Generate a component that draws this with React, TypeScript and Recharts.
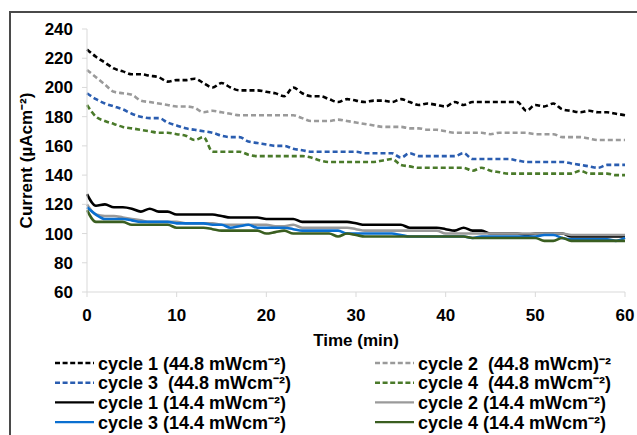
import React from "react";
import { LineChart, Line, XAxis, YAxis } from "recharts";

const minutes = [
  0, 1, 2, 3, 4, 5, 6, 7, 8, 9, 10, 11, 12, 13, 14, 15, 16, 17, 18, 19, 20,
  21, 22, 23, 24, 25, 26, 27, 28, 29, 30, 31, 32, 33, 34, 35, 36, 37, 38, 39, 40,
  41, 42, 43, 44, 45, 46, 47, 48, 49, 50, 51, 52, 53, 54, 55, 56, 57, 58, 59, 60,
];

// 44.8 mWcm-2 runs (dashed)
const cycle1High = [
  226, 221, 217, 213, 211, 209, 209, 208, 207, 204, 205, 205, 206, 203, 200, 203, 200, 198, 198, 198, 197,
  196, 194, 200, 196, 194, 194, 192, 190, 192, 191, 190, 191, 191, 190, 192, 190, 188, 189, 188, 187,
  190, 188, 190, 190, 190, 190, 190, 190, 184, 188, 187, 189, 185, 184, 183, 184, 183, 183, 182, 181,
];
const cycle2High = [
  212, 207, 202, 197, 196, 195, 191, 190, 189, 188, 187, 187, 186, 183, 184, 183, 182, 181, 181, 181, 181,
  181, 181, 181, 179, 177, 177, 177, 178, 177, 176, 175, 174, 173, 173, 173, 172, 172, 171, 171, 170,
  169, 169, 169, 169, 168, 169, 169, 169, 169, 168, 168, 168, 166, 166, 166, 165, 164, 164, 164, 164,
];
const cycle3High = [
  196, 192, 189, 187, 185, 182, 180, 179, 179, 176, 174, 172, 171, 170, 169, 167, 166, 166, 163, 162, 161,
  160, 160, 158, 157, 156, 156, 156, 156, 156, 156, 155, 155, 155, 155, 152, 155, 153, 153, 153, 153,
  153, 155, 151, 151, 151, 151, 151, 150, 149, 149, 149, 149, 149, 148, 147, 146, 145, 147, 147, 147,
];
const cycle4High = [
  188, 180, 177, 175, 173, 172, 171, 170, 169, 169, 168, 167, 164, 166, 156, 156, 156, 156, 154, 153, 153,
  153, 153, 153, 153, 152, 150, 149, 149, 149, 149, 149, 149, 150, 151, 147, 146, 145, 145, 145, 145,
  145, 145, 143, 145, 143, 142, 141, 141, 141, 141, 141, 141, 141, 141, 143, 141, 141, 141, 140, 140,
];

// 14.4 mWcm-2 runs (solid)
const cycle1Low = [
  127, 119, 120, 118, 118, 117, 115, 117, 115, 115, 113, 113, 113, 113, 113, 112, 111, 111, 111, 111, 110,
  110, 110, 110, 108, 108, 108, 108, 108, 108, 107, 106, 106, 106, 106, 106, 104, 104, 104, 104, 103,
  102, 104, 102, 102, 100, 100, 100, 100, 99, 100, 100, 100, 100, 98, 98, 98, 98, 98, 98, 98,
];
const cycle2Low = [
  120, 113, 112, 112, 111, 110, 109, 108, 108, 108, 108, 107, 107, 107, 107, 106, 106, 106, 106, 106, 106,
  105, 105, 106, 104, 104, 104, 104, 104, 104, 103, 102, 102, 102, 102, 102, 102, 102, 102, 102, 100,
  100, 100, 100, 100, 100, 100, 100, 100, 100, 100, 100, 100, 100, 99, 99, 99, 99, 99, 99, 99,
];
const cycle3Low = [
  118, 113, 110, 110, 110, 109, 108, 108, 108, 108, 107, 107, 107, 107, 106, 106, 104, 105, 106, 104, 104,
  104, 104, 103, 102, 102, 102, 102, 102, 100, 100, 100, 100, 100, 100, 99, 98, 98, 98, 98, 98,
  98, 98, 97, 98, 98, 98, 98, 98, 98, 98, 99, 99, 97, 96, 96, 96, 96, 96, 95, 97,
];
const cycle4Low = [
  116, 108, 108, 108, 108, 106, 106, 106, 106, 106, 104, 104, 104, 104, 103, 102, 102, 102, 102, 102, 100,
  101, 102, 100, 100, 100, 100, 100, 98, 100, 99, 98, 98, 98, 98, 98, 98, 98, 98, 98, 98,
  98, 98, 97, 97, 97, 97, 97, 97, 97, 97, 95, 95, 97, 95, 95, 95, 95, 95, 95, 95,
];

const xTicks = [0, 10, 20, 30, 40, 50, 60];
const yTicks = [60, 80, 100, 120, 140, 160, 180, 200, 220, 240];

const seriesList = [
  { key: "c1h", name: "cycle 1 (44.8 mWcm⁻²)", values: cycle1High, color: "#000000", dash: "5 3" },
  { key: "c2h", name: "cycle 2  (44.8 mWcm)⁻²", values: cycle2High, color: "#9a9a9a", dash: "5 3" },
  { key: "c3h", name: "cycle 3  (44.8 mWcm⁻²)", values: cycle3High, color: "#2a5db0", dash: "5 3" },
  { key: "c4h", name: "cycle 4  (44.8 mWcm⁻²)", values: cycle4High, color: "#4a7a2a", dash: "5 3" },
  { key: "c1l", name: "cycle 1 (14.4 mWcm⁻²)", values: cycle1Low, color: "#000000", dash: undefined },
  { key: "c2l", name: "cycle 2 (14.4 mWcm⁻²)", values: cycle2Low, color: "#9a9a9a", dash: undefined },
  { key: "c3l", name: "cycle 3 (14.4 mWcm⁻²)", values: cycle3Low, color: "#0a6fd0", dash: undefined },
  { key: "c4l", name: "cycle 4 (14.4 mWcm⁻²)", values: cycle4Low, color: "#3a5e20", dash: undefined },
];

const data = minutes.map((t, i) => {
  const row: Record<string, number> = { t };
  seriesList.forEach((s) => {
    row[s.key] = s.values[i];
  });
  return row;
});

const font = "'Liberation Sans', Arial, sans-serif";
const tickStyle = { fill: "#000", fontSize: 17, fontWeight: 700, fontFamily: font };

function ChartLegend() {
  return (
    <svg width={637} height={90} style={{ position: "absolute", left: 0, top: 350 }}>
      {seriesList.map((s, i) => {
        const col = i % 2;
        const row = Math.floor(i / 2);
        const x = col === 0 ? 55 : 375;
        const y = 13 + row * 19.7;
        return (
          <g key={s.key}>
            <line x1={x} x2={x + 39} y1={y} y2={y} stroke={s.color} strokeWidth={2.4} strokeDasharray={s.dash ? "5 2.6" : undefined} />
            <text
              x={x + 43}
              y={y + 6.5}
              fontSize={18}
              fontWeight={700}
              fontFamily={font}
              fill="#000"
              style={{ whiteSpace: "pre" }}
            >
              {s.name}
            </text>
          </g>
        );
      })}
    </svg>
  );
}

export default function App() {
  return (
    <div style={{ position: "absolute", left: 0, top: 0, width: 637, height: 435, background: "#fff", overflow: "hidden" }}>
      <div
        style={{
          position: "absolute",
          left: 9,
          top: 11,
          width: 640,
          height: 440,
          borderTop: "2px solid #4a4a4a",
          borderLeft: "2px solid #4a4a4a",
        }}
      />
      <div style={{ position: "absolute", left: 0, top: 0 }}>
        <LineChart width={637} height={435} data={data} margin={{ top: 29, right: 12, bottom: 113, left: 0 }}>
          <XAxis
            dataKey="t"
            type="number"
            domain={[0, 60]}
            ticks={xTicks}
            height={30}
            stroke="#d9d9d9"
            tickSize={5}
            tick={tickStyle}
            tickMargin={12}
            label={{ value: "Time (min)", position: "insideBottom", offset: -24, style: { ...tickStyle, textAnchor: "middle" } }}
          />
          <YAxis
            type="number"
            domain={[60, 240]}
            ticks={yTicks}
            width={87}
            stroke="#d9d9d9"
            tickSize={5}
            tickMargin={9}
            tick={tickStyle}
            label={{ value: "Current (µAcm⁻²)", angle: -90, position: "insideLeft", offset: 26, style: { ...tickStyle, textAnchor: "middle" } }}
          />
          {seriesList.map((s) => (
            <Line
              key={s.key}
              dataKey={s.key}
              name={s.name}
              type="monotone"
              stroke={s.color}
              strokeWidth={2.6}
              strokeDasharray={s.dash}
              dot={false}
              isAnimationActive={false}
            />
          ))}
        </LineChart>
      </div>
      <ChartLegend />
    </div>
  );
}
